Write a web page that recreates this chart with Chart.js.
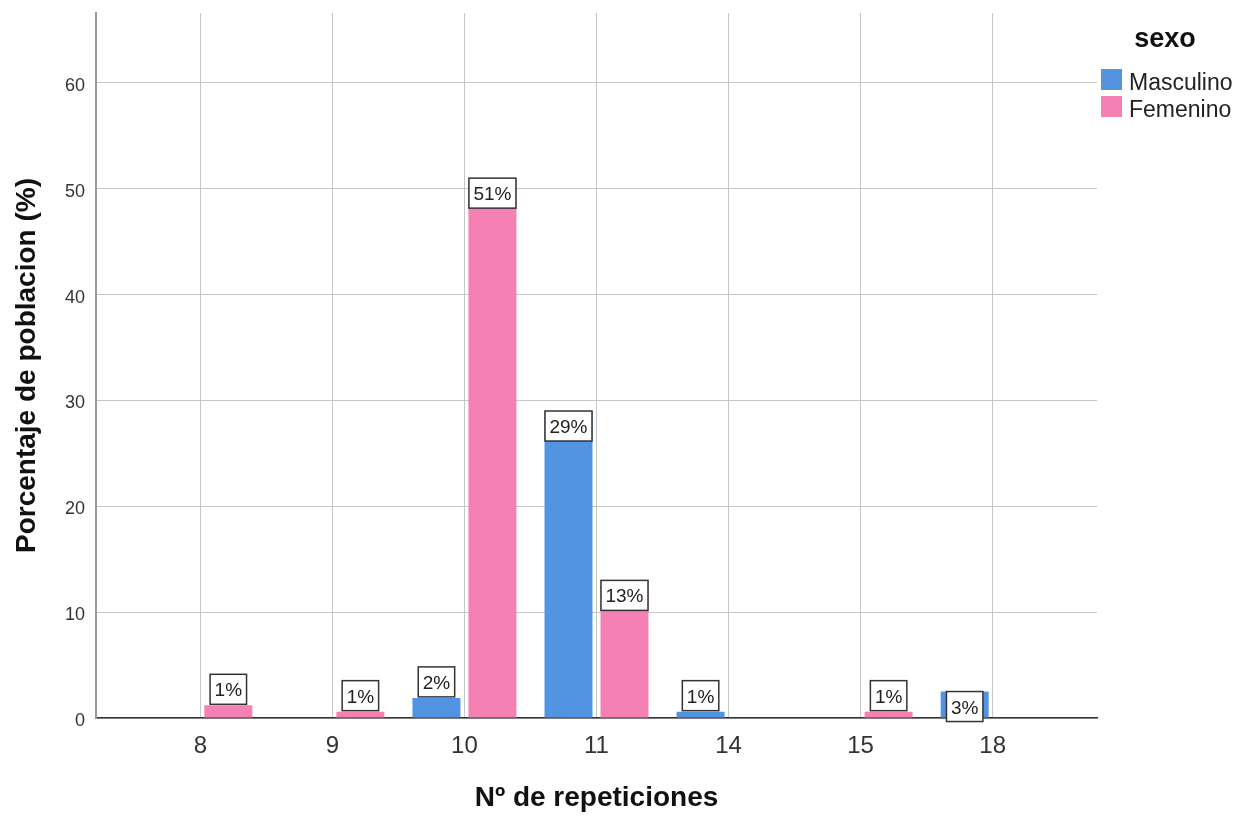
<!DOCTYPE html>
<html>
<head>
<meta charset="utf-8">
<script src="https://cdn.jsdelivr.net/npm/chart.js@4.4.1/dist/chart.umd.min.js"></script>
<style>
  html, body { margin: 0; padding: 0; background: #fff; }
</style>
</head>
<body>
<canvas id="chart" width="1241" height="818"></canvas>
<script>
// data
const categories = ["8", "9", "10", "11", "14", "15", "18"];
const masculino = [null, null, 1.9, 29, 0.6, null, 2.5];
const femenino = [1.2, 0.6, 51, 13, null, 0.6, null];
const yTicks = [0, 10, 20, 30, 40, 50, 60];
const seriesNames = ["Masculino", "Femenino"];
const legendTitle = "sexo";

const BLUE = "#5294e2";
const PINK = "#f580b4";
const FONT = "'Liberation Sans', Arial, sans-serif";

Chart.defaults.font.family = FONT;
Chart.defaults.color = "#333";

// boxed percentage labels on top of the bars
const barLabels = {
  id: "barLabels",
  afterDatasetsDraw(chart) {
    const ctx = chart.ctx;
    ctx.save();
    ctx.font = "19px " + FONT;
    ctx.textAlign = "center";
    ctx.textBaseline = "alphabetic";
    chart.data.datasets.forEach((ds, di) => {
      const meta = chart.getDatasetMeta(di);
      meta.data.forEach((bar, i) => {
        const v = ds.data[i].y;
        if (v === null) return;
        const text = Math.round(v) + "%";
        const w = ctx.measureText(text).width + 9;
        const h = 30;
        // inside the top of tall bars, above short ones
        const top = bar.base - bar.y >= 24 ? bar.y : bar.y - h - 1;
        ctx.fillStyle = "#fff";
        ctx.fillRect(bar.x - w / 2, top, w, h);
        ctx.strokeStyle = "#333";
        ctx.lineWidth = 1.5;
        ctx.strokeRect(bar.x - w / 2, top, w, h);
        ctx.fillStyle = "#222";
        ctx.fillText(text, bar.x, top + 22);
      });
    });
    ctx.restore();
  }
};

// legend on the right with a bold title
const sexoLegend = {
  id: "sexoLegend",
  afterDraw(chart) {
    const ctx = chart.ctx;
    const left = chart.chartArea.right + 4;
    ctx.save();
    ctx.textBaseline = "alphabetic";
    ctx.fillStyle = "#111";
    ctx.font = "bold 27px " + FONT;
    ctx.textAlign = "center";
    ctx.fillText(legendTitle, left + 64, 47);
    ctx.font = "23px " + FONT;
    ctx.textAlign = "left";
    chart.data.datasets.forEach((ds, i) => {
      const y = 69 + i * 27;
      ctx.fillStyle = ds.backgroundColor;
      ctx.fillRect(left, y, 21, 21);
      ctx.fillStyle = "#222";
      ctx.fillText(ds.label, left + 28, y + 21);
    });
    ctx.restore();
  }
};

const chart = new Chart(document.getElementById("chart"), {
  type: "bar",
  data: {
    datasets: [
      {
        label: seriesNames[0],
        backgroundColor: BLUE,
        data: masculino.map((v, i) => ({ x: i, y: v }))
      },
      {
        label: seriesNames[1],
        backgroundColor: PINK,
        data: femenino.map((v, i) => ({ x: i, y: v }))
      }
    ]
  },
  options: {
    responsive: false,
    animation: false,
    categoryPercentage: 0.848,
    barPercentage: 0.857,
    layout: { padding: { top: 13, right: 144, left: 0, bottom: 0 } },
    plugins: {
      legend: { display: false },
      tooltip: { enabled: false }
    },
    scales: {
      x: {
        type: "linear",
        min: -0.79,
        max: categories.length - 1 + 0.79,
        offset: false,
        afterFit(scale) { scale.height = 100; },
        afterBuildTicks(scale) {
          scale.ticks = categories.map((c, i) => ({ value: i }));
        },
        ticks: {
          padding: 14,
          color: "#333",
          font: { size: 24 },
          callback: v => categories[v]
        },
        grid: { offset: false, color: "#c6c6c6", lineWidth: 1, drawTicks: false },
        border: { color: "#333", width: 1.5 },
        title: {
          display: true,
          text: "Nº de repeticiones",
          color: "#111",
          font: { size: 28, weight: "bold" },
          padding: { top: 0, bottom: 3 }
        }
      },
      y: {
        min: 0,
        max: 66.6,
        afterFit(scale) {
          scale.width = 96;
          scale.paddingTop = 0;
          scale.paddingBottom = 0;
        },
        afterBuildTicks(scale) {
          scale.ticks = yTicks.map(v => ({ value: v }));
        },
        ticks: {
          padding: 11,
          color: "#333",
          font: { size: 18 },
          labelOffset: 3
        },
        grid: { color: "#c6c6c6", lineWidth: 1, drawTicks: false },
        border: { color: "#999", width: 2 },
        title: {
          display: true,
          text: "Porcentaje de poblacion (%)",
          color: "#111",
          font: { size: 28, weight: "bold" },
          padding: { top: 10, bottom: 0 }
        }
      }
    }
  },
  plugins: [barLabels, sexoLegend]
});
</script>
</body>
</html>
